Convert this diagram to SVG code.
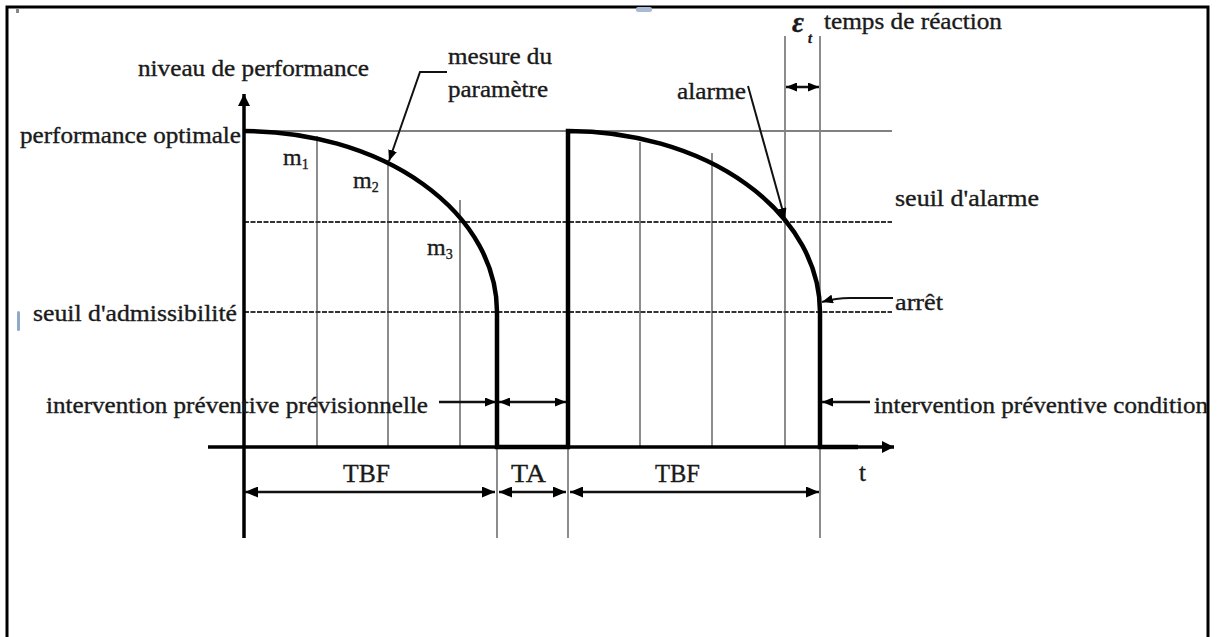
<svg xmlns="http://www.w3.org/2000/svg" width="1220" height="637" viewBox="0 0 1220 637">
<style>
  text { font-family: "Liberation Serif", "Times New Roman", serif; fill: #1a1a1a; stroke: #1a1a1a; stroke-width: 0.35; }
  .lbl { font-size: 23px; }
  .big { font-size: 25px; }
  .grid { stroke: #808080; stroke-width: 1.8; fill: none; }
  .thr { stroke: #333; stroke-width: 2.2; stroke-dasharray: 5 1.5; fill: none; }
  .curve { stroke: #000; stroke-width: 4.5; fill: none; stroke-linejoin: miter; }
  .axis { stroke: #000; stroke-width: 3.5; fill: none; }
  .ld { stroke: #111; stroke-width: 2; fill: none; }
  .dim { stroke: #111; stroke-width: 2.5; fill: none; }
</style>
<defs>
  <marker id="ah" viewBox="0 0 13 11" refX="13" refY="5.5" markerWidth="13" markerHeight="11" markerUnits="userSpaceOnUse" orient="auto-start-reverse">
    <path d="M0,0 L13,5.5 L0,11 Z" fill="#000"/>
  </marker>
  <marker id="ahs" viewBox="0 0 11 9" refX="11" refY="4.5" markerWidth="11" markerHeight="9" markerUnits="userSpaceOnUse" orient="auto-start-reverse">
    <path d="M0,0 L11,4.5 L0,9 Z" fill="#000"/>
  </marker>
  <marker id="axh" viewBox="0 0 12 12" refX="12" refY="6" markerWidth="12" markerHeight="12" markerUnits="userSpaceOnUse" orient="auto">
    <path d="M0,0 L12,6 L0,12 Z" fill="#000"/>
  </marker>
</defs>
<rect width="1220" height="637" fill="#fff"/>
<rect x="7" y="7" width="1201" height="640" fill="none" stroke="#000" stroke-width="3"/>
<g id="artifacts">
  <rect x="16" y="9" width="3" height="4" fill="#888"/>
  <rect x="636" y="7" width="16" height="5" rx="2" fill="#a9bbd3"/>
  <rect x="17" y="311" width="3" height="20" rx="1.5" fill="#8fa9c8"/>
</g>
<g id="grid">
  <line class="grid" x1="244" y1="131" x2="892" y2="131"/>
  <line class="grid" x1="317" y1="136" x2="317" y2="447"/>
  <line class="grid" x1="388" y1="160" x2="388" y2="447"/>
  <line class="grid" x1="460" y1="200" x2="460" y2="447"/>
  <line class="grid" x1="640" y1="142" x2="640" y2="447"/>
  <line class="grid" x1="712" y1="153" x2="712" y2="447"/>
  <line class="grid" x1="785" y1="36" x2="785" y2="447"/>
  <line class="grid" x1="820" y1="36" x2="820" y2="538"/>
  <line class="grid" x1="497" y1="447" x2="497" y2="538"/>
  <line class="grid" x1="568" y1="447" x2="568" y2="538"/>
  <line class="thr" x1="244" y1="222" x2="892" y2="222"/>
  <line class="thr" x1="244" y1="312" x2="892" y2="312"/>
</g>
<g id="axes">
  <line class="axis" x1="244" y1="538" x2="244" y2="94" marker-end="url(#axh)"/>
  <line class="axis" x1="208" y1="447" x2="894" y2="447" marker-end="url(#axh)"/>
</g>
<g id="performance-curve">
  <path class="curve" d="M244,131 A253,181 0 0 1 497,312 L497,447 L568,447 L568,131 A252,181 0 0 1 820,312 L820,447 L858,447"/>
</g>
<g id="connectors">
  <path class="ld" d="M447,72 L420,72 L389,161" marker-end="url(#ahs)"/>
  <path class="ld" d="M748,86 L785,219" marker-end="url(#ahs)"/>
  <path class="ld" d="M893,298 L850,298 Q836,298 822,302" marker-end="url(#ahs)"/>
  <line class="dim" x1="439" y1="402" x2="496" y2="402" marker-end="url(#ahs)"/>
  <line class="dim" x1="499" y1="402" x2="566" y2="402" marker-start="url(#ahs)" marker-end="url(#ahs)"/>
  <line class="dim" x1="870" y1="402" x2="822" y2="402" marker-end="url(#ahs)"/>
  <line class="dim" x1="786" y1="87" x2="819" y2="87" marker-start="url(#ahs)" marker-end="url(#ahs)"/>
  <line class="dim" x1="245" y1="492" x2="495" y2="492" marker-start="url(#ah)" marker-end="url(#ah)"/>
  <line class="dim" x1="499" y1="492" x2="566" y2="492" marker-start="url(#ah)" marker-end="url(#ah)"/>
  <line class="dim" x1="570" y1="492" x2="819" y2="492" marker-start="url(#ah)" marker-end="url(#ah)"/>
</g>
<g id="label-niveau"><text class="lbl" x="138" y="76" textLength="231" lengthAdjust="spacingAndGlyphs">niveau de performance</text></g>
<g id="label-mesure">
  <text class="lbl" x="448" y="64" textLength="104" lengthAdjust="spacingAndGlyphs">mesure du</text>
  <text class="lbl" x="448" y="97" textLength="100" lengthAdjust="spacingAndGlyphs">paramètre</text>
</g>
<g id="label-optimale"><text class="lbl" x="20" y="143" textLength="221" lengthAdjust="spacingAndGlyphs">performance optimale</text></g>
<g id="label-m1"><text x="283" y="165" font-size="24">m<tspan font-size="14" dy="4">1</tspan></text></g>
<g id="label-m2"><text x="353" y="188" font-size="24">m<tspan font-size="14" dy="4">2</tspan></text></g>
<g id="label-m3"><text x="427" y="255" font-size="24">m<tspan font-size="14" dy="4">3</tspan></text></g>
<g id="label-alarme"><text class="lbl" x="677" y="99" textLength="69" lengthAdjust="spacingAndGlyphs">alarme</text></g>
<g id="label-epsilon">
  <text x="792" y="32" font-size="29" font-weight="bold" font-style="italic">ε</text>
  <text x="808" y="43" font-size="14" font-style="italic" font-weight="bold">t</text>
</g>
<g id="label-temps"><text class="lbl" x="824" y="29" textLength="178" lengthAdjust="spacingAndGlyphs">temps de réaction</text></g>
<g id="label-seuil-alarme"><text class="lbl" x="895" y="206" textLength="144" lengthAdjust="spacingAndGlyphs">seuil d'alarme</text></g>
<g id="label-seuil-admissibilite"><text class="lbl" x="33" y="321" textLength="204" lengthAdjust="spacingAndGlyphs">seuil d'admissibilité</text></g>
<g id="label-arret"><text class="lbl" x="895" y="310" textLength="48" lengthAdjust="spacingAndGlyphs">arrêt</text></g>
<g id="label-intervention-prev"><text class="lbl" x="46" y="413" textLength="382" lengthAdjust="spacingAndGlyphs">intervention préventive prévisionnelle</text></g>
<g id="label-intervention-cond"><text class="lbl" x="874" y="413" textLength="334" lengthAdjust="spacingAndGlyphs">intervention préventive condition</text></g>
<g id="label-tbf1"><text class="big" x="343" y="482" textLength="47" lengthAdjust="spacingAndGlyphs">TBF</text></g>
<g id="label-ta"><text class="big" x="511" y="482" textLength="35" lengthAdjust="spacingAndGlyphs">TA</text></g>
<g id="label-tbf2"><text class="big" x="655" y="482" textLength="45" lengthAdjust="spacingAndGlyphs">TBF</text></g>
<g id="label-t"><text class="big" x="859" y="481">t</text></g>
</svg>
